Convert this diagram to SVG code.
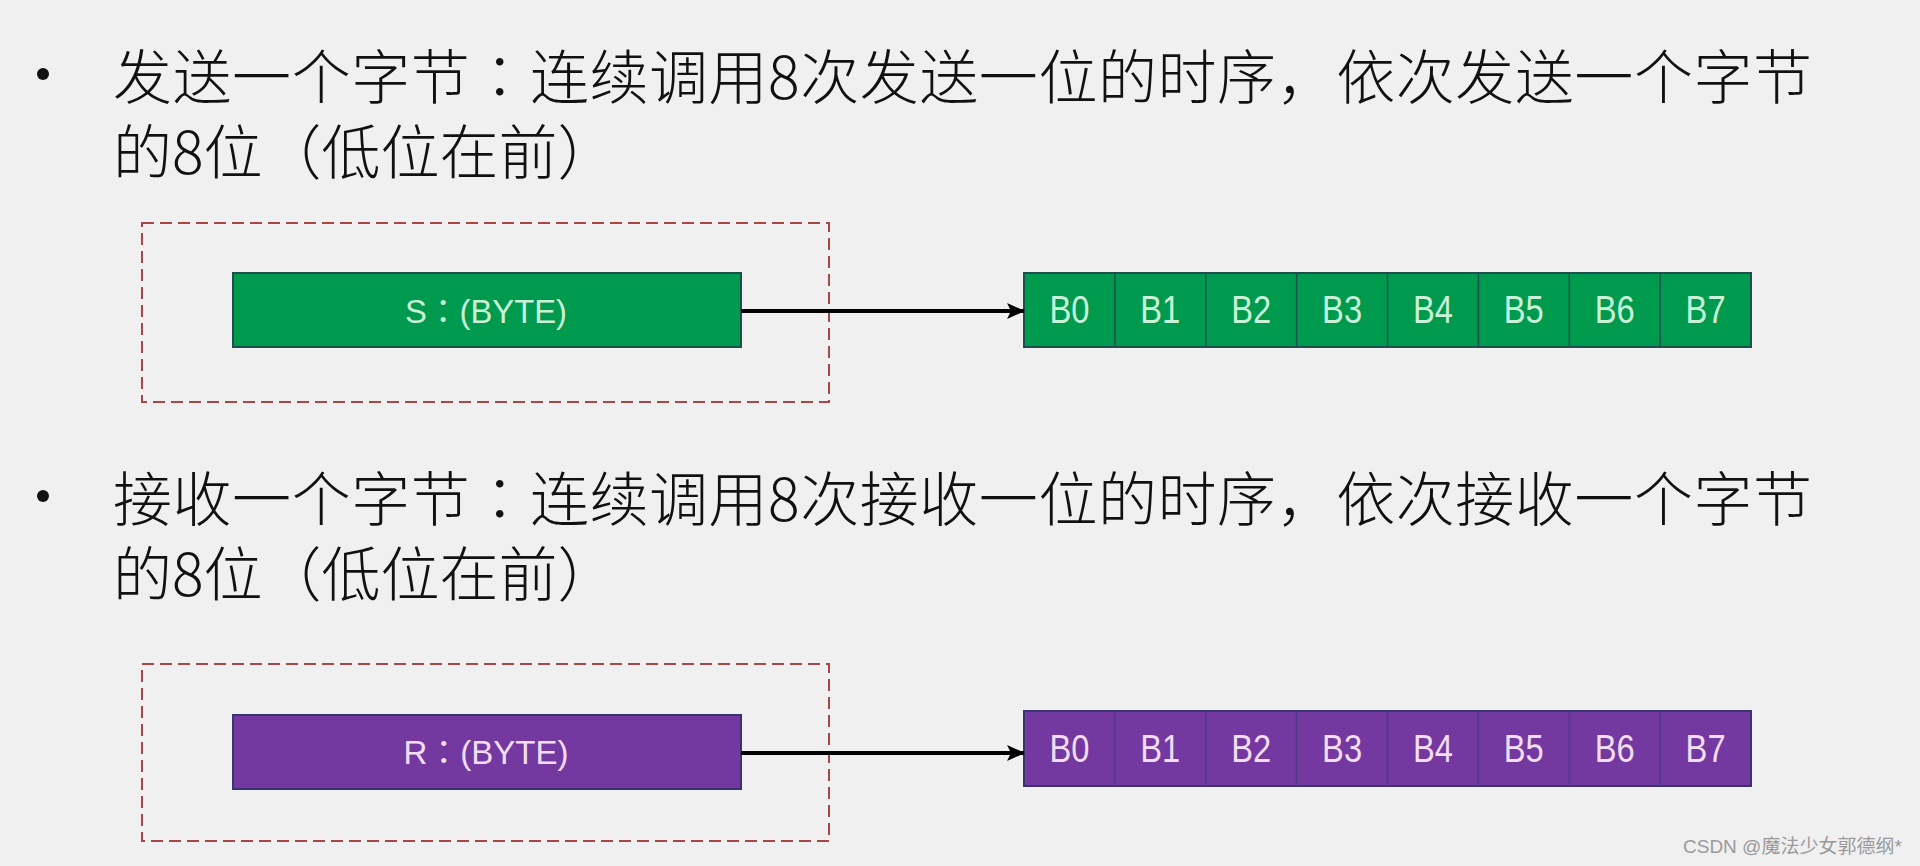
<svg xmlns="http://www.w3.org/2000/svg" width="1920" height="866" viewBox="0 0 1920 866">
  <style>
    .title { font-family: "Noto Sans CJK SC", "Noto Sans", sans-serif; font-size: 59px; font-weight: 300; fill: #111111; }
    .wide { letter-spacing: 0.55px; }
    .cc { font-family: "Noto Sans CJK TC", "Noto Sans CJK SC", sans-serif; }
    .dash { fill: none; stroke: #a84646; stroke-width: 2; stroke-dasharray: 12 6; }
    .gfill { fill: #009a4e; stroke: #1d4f4f; stroke-width: 2; }
    .pfill { fill: #7339a1; stroke: #3b3270; stroke-width: 2; }
    .gdiv { stroke: #1d4f4f; stroke-width: 1.5; }
    .pdiv { stroke: #4f3a8a; stroke-width: 1.5; }
    .lbl { font-family: "Liberation Sans", "Noto Sans CJK TC", sans-serif; text-anchor: middle; }
    .gtxt { fill: #caf2d8; }
    .ptxt { fill: #f3ddf2; }
    .conn { stroke: #000000; stroke-width: 4; fill: none; marker-end: url(#arrow); }
    .wm { font-family: "Liberation Sans", "Noto Sans CJK SC", sans-serif; font-size: 19px; fill: #9a9a9a; }
  </style>
  <defs>
    <marker id="arrow" markerUnits="userSpaceOnUse" markerWidth="18" markerHeight="18" refX="17" refY="9" orient="auto">
      <path d="M0,1 L18,9 L0,17 L4,9 z" fill="#000000"/>
    </marker>
  </defs>
  <rect x="0" y="0" width="1920" height="866" fill="#f0f0f0"/>

  <g id="section-send-text">
    <circle cx="43" cy="74" r="6" fill="#111111"/>
    <text class="title"><tspan class="wide" x="113" y="99">发送一个字节<tspan class="cc">：</tspan>连续调用8次发送一位的时序，依次发送一个字节</tspan><tspan x="113" y="174">的8位（低位在前）</tspan></text>
  </g>

  <g id="section-recv-text">
    <circle cx="43" cy="496" r="6" fill="#111111"/>
    <text class="title"><tspan class="wide" x="113" y="521">接收一个字节<tspan class="cc">：</tspan>连续调用8次接收一位的时序，依次接收一个字节</tspan><tspan x="113" y="596">的8位（低位在前）</tspan></text>
  </g>

  <g id="send-frame">
    <rect class="dash" x="142" y="223" width="687" height="179"/>
  </g>
  <g id="send-byte">
    <rect class="gfill" x="233" y="273" width="508" height="74"/>
    <text class="lbl gtxt" x="486" y="323" font-size="33" textLength="162" lengthAdjust="spacingAndGlyphs">S：(BYTE)</text>
  </g>
  <g id="send-bits">
    <rect class="gfill" x="1024" y="273" width="727" height="74"/>
    <line class="gdiv" x1="1114.9" y1="273" x2="1114.9" y2="347"/>
    <line class="gdiv" x1="1205.8" y1="273" x2="1205.8" y2="347"/>
    <line class="gdiv" x1="1296.6" y1="273" x2="1296.6" y2="347"/>
    <line class="gdiv" x1="1387.5" y1="273" x2="1387.5" y2="347"/>
    <line class="gdiv" x1="1478.4" y1="273" x2="1478.4" y2="347"/>
    <line class="gdiv" x1="1569.3" y1="273" x2="1569.3" y2="347"/>
    <line class="gdiv" x1="1660.1" y1="273" x2="1660.1" y2="347"/>
    <g class="lbl gtxt" font-size="38">
      <text x="1069.4" y="323" textLength="40" lengthAdjust="spacingAndGlyphs">B0</text>
      <text x="1160.3" y="323" textLength="40" lengthAdjust="spacingAndGlyphs">B1</text>
      <text x="1251.2" y="323" textLength="40" lengthAdjust="spacingAndGlyphs">B2</text>
      <text x="1342.1" y="323" textLength="40" lengthAdjust="spacingAndGlyphs">B3</text>
      <text x="1432.9" y="323" textLength="40" lengthAdjust="spacingAndGlyphs">B4</text>
      <text x="1523.8" y="323" textLength="40" lengthAdjust="spacingAndGlyphs">B5</text>
      <text x="1614.7" y="323" textLength="40" lengthAdjust="spacingAndGlyphs">B6</text>
      <text x="1705.6" y="323" textLength="40" lengthAdjust="spacingAndGlyphs">B7</text>
    </g>
  </g>

  <g id="recv-frame">
    <rect class="dash" x="142" y="664" width="687" height="177"/>
  </g>
  <g id="recv-byte">
    <rect class="pfill" x="233" y="715" width="508" height="74"/>
    <text class="lbl ptxt" x="486" y="764" font-size="33" textLength="165" lengthAdjust="spacingAndGlyphs">R：(BYTE)</text>
  </g>
  <g id="recv-bits">
    <rect class="pfill" x="1024" y="711" width="727" height="75"/>
    <line class="pdiv" x1="1114.9" y1="711" x2="1114.9" y2="786"/>
    <line class="pdiv" x1="1205.8" y1="711" x2="1205.8" y2="786"/>
    <line class="pdiv" x1="1296.6" y1="711" x2="1296.6" y2="786"/>
    <line class="pdiv" x1="1387.5" y1="711" x2="1387.5" y2="786"/>
    <line class="pdiv" x1="1478.4" y1="711" x2="1478.4" y2="786"/>
    <line class="pdiv" x1="1569.3" y1="711" x2="1569.3" y2="786"/>
    <line class="pdiv" x1="1660.1" y1="711" x2="1660.1" y2="786"/>
    <g class="lbl ptxt" font-size="38">
      <text x="1069.4" y="762" textLength="40" lengthAdjust="spacingAndGlyphs">B0</text>
      <text x="1160.3" y="762" textLength="40" lengthAdjust="spacingAndGlyphs">B1</text>
      <text x="1251.2" y="762" textLength="40" lengthAdjust="spacingAndGlyphs">B2</text>
      <text x="1342.1" y="762" textLength="40" lengthAdjust="spacingAndGlyphs">B3</text>
      <text x="1432.9" y="762" textLength="40" lengthAdjust="spacingAndGlyphs">B4</text>
      <text x="1523.8" y="762" textLength="40" lengthAdjust="spacingAndGlyphs">B5</text>
      <text x="1614.7" y="762" textLength="40" lengthAdjust="spacingAndGlyphs">B6</text>
      <text x="1705.6" y="762" textLength="40" lengthAdjust="spacingAndGlyphs">B7</text>
    </g>
  </g>

  <g id="connectors">
    <line class="conn" x1="741" y1="311" x2="1024" y2="311"/>
    <line class="conn" x1="741" y1="753" x2="1024" y2="753"/>
  </g>

  <text class="wm" x="1683" y="853">CSDN @魔法少女郭德纲*</text>
</svg>
